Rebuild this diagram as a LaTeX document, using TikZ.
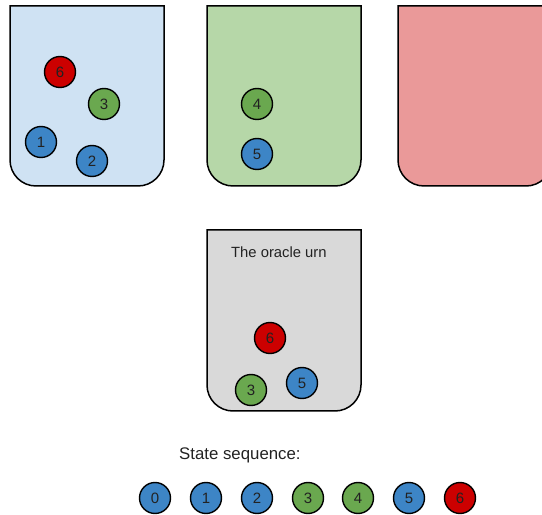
\documentclass[tikz,border=0pt]{standalone}
\usepackage{fontspec}
\setmainfont{Liberation Sans}
\definecolor{urnblue}{HTML}{CFE2F3}
\definecolor{urngreen}{HTML}{B6D7A8}
\definecolor{urnred}{HTML}{EA9999}
\definecolor{urngray}{HTML}{D9D9D9}
\definecolor{ballblue}{HTML}{3D85C6}
\definecolor{ballgreen}{HTML}{6AA84F}
\definecolor{ballred}{HTML}{CC0000}
\definecolor{inkgray}{HTML}{222222}
\begin{document}
\begin{tikzpicture}[x=1pt,y=1pt,
  ball/.style={circle,draw=black,line width=1.4pt,minimum size=31pt,inner sep=0pt,
    font=\fontsize{15}{17}\selectfont,text=inkgray},
  blueball/.style={ball,fill=ballblue},
  greenball/.style={ball,fill=ballgreen},
  redball/.style={ball,fill=ballred},
  urnline/.style={draw=black,line width=1.5pt},
  label/.style={inner sep=0pt,anchor=west,text=inkgray}]
\useasboundingbox (0,0) rectangle (542,515);
\clip (0,0) rectangle (542,515);

% urn outline: flat open top, rounded bottom corners
\newcommand{\urnshape}[4]{%
  \filldraw[urnline,fill=#1] (#2,#4+180) [rounded corners=26pt] -- (#2,#4) -- (#3,#4) [sharp corners] -- (#3,#4+180) -- cycle;}

\urnshape{urnblue}{10}{164}{329}
\urnshape{urngreen}{207}{361}{329}
\urnshape{urnred}{398}{552}{329}
\filldraw[urnline,fill=urngray] (207,285) [rounded corners=26pt] -- (207,104) -- (361,104) [sharp corners] -- (361,285) -- cycle;

% balls in the first urn
\node[redball]   (a6) at (60,443) {6};
\node[greenball] (a3) at (104,411) {3};
\node[blueball]  (a1) at (41,373) {1};
\node[blueball]  (a2) at (92,354) {2};

% balls in the second urn
\node[greenball] (b4) at (257,411) {4};
\node[blueball]  (b5) at (257,361) {5};

% oracle urn
\node[label,font=\fontsize{14.8}{17}\selectfont] (otitle) at (231,263) {The oracle urn};
\node[redball]   (o6) at (270,177) {6};
\node[greenball] (o3) at (251,125) {3};
\node[blueball]  (o5) at (302,132) {5};

% state sequence
\node[label,font=\fontsize{16.8}{19}\selectfont] (stitle) at (179,60) {State sequence:};
\node[blueball]  (s0) at (155,17) {0};
\node[blueball]  (s1) at (206,17) {1};
\node[blueball]  (s2) at (257,17) {2};
\node[greenball] (s3) at (308,17) {3};
\node[greenball] (s4) at (358,17) {4};
\node[blueball]  (s5) at (409,17) {5};
\node[redball]   (s6) at (460,17) {6};
\end{tikzpicture}
\end{document}
